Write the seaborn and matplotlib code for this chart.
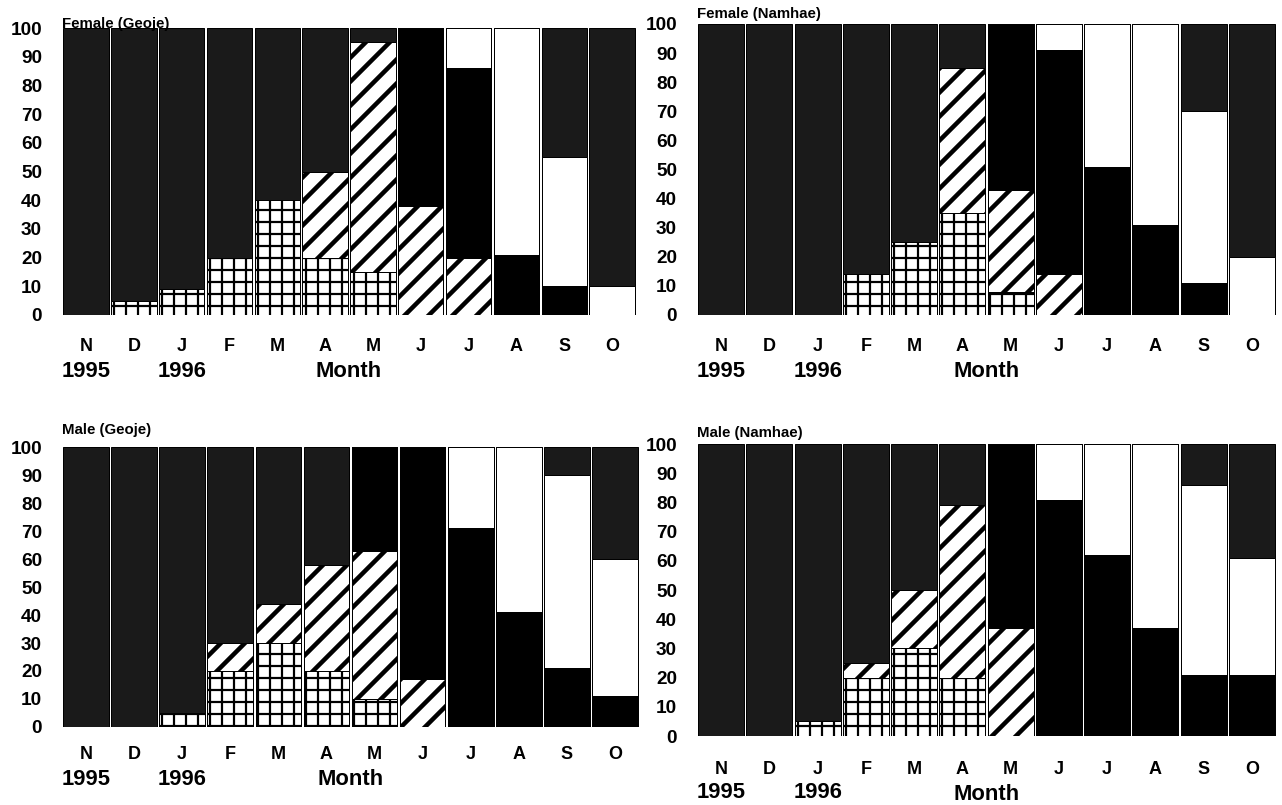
import matplotlib
matplotlib.use("Agg")
import matplotlib.pyplot as plt
import seaborn as sns
import pandas as pd
import numpy as np

# ---------------- data ----------------
months = ["N", "D", "J", "F", "M", "A", "M", "J", "J", "A", "S", "O"]
years = {0: "1995", 2: "1996"}
yticks = [0, 10, 20, 30, 40, 50, 60, 70, 80, 90, 100]

# stages from bottom to top: grid, hatched, black, white, stippled
fg_grid    = [0, 5, 9, 20, 40, 20, 15, 0, 0, 0, 0, 0]
fg_hatch   = [0, 0, 0, 0, 0, 30, 80, 38, 20, 0, 0, 0]
fg_black   = [0, 0, 0, 0, 0, 0, 0, 62, 66, 21, 10, 0]
fg_white   = [0, 0, 0, 0, 0, 0, 0, 0, 14, 79, 45, 10]
fg_stipple = [100, 95, 91, 80, 60, 50, 5, 0, 0, 0, 45, 90]

fn_grid    = [0, 0, 0, 14, 25, 35, 8, 0, 0, 0, 0, 0]
fn_hatch   = [0, 0, 0, 0, 0, 50, 35, 14, 0, 0, 0, 0]
fn_black   = [0, 0, 0, 0, 0, 0, 57, 77, 51, 31, 11, 0]
fn_white   = [0, 0, 0, 0, 0, 0, 0, 9, 49, 69, 59, 20]
fn_stipple = [100, 100, 100, 86, 75, 15, 0, 0, 0, 0, 30, 80]

mg_grid    = [0, 0, 5, 20, 30, 20, 10, 0, 0, 0, 0, 0]
mg_hatch   = [0, 0, 0, 10, 14, 38, 53, 17, 0, 0, 0, 0]
mg_black   = [0, 0, 0, 0, 0, 0, 37, 83, 71, 41, 21, 11]
mg_white   = [0, 0, 0, 0, 0, 0, 0, 0, 29, 59, 69, 49]
mg_stipple = [100, 100, 95, 70, 56, 42, 0, 0, 0, 0, 10, 40]

mn_grid    = [0, 0, 5, 20, 30, 20, 0, 0, 0, 0, 0, 0]
mn_hatch   = [0, 0, 0, 5, 20, 59, 37, 0, 0, 0, 0, 0]
mn_black   = [0, 0, 0, 0, 0, 0, 63, 81, 62, 37, 21, 21]
mn_white   = [0, 0, 0, 0, 0, 0, 0, 19, 38, 63, 65, 40]
mn_stipple = [100, 100, 95, 75, 50, 21, 0, 0, 0, 0, 14, 39]

panels = [
    ("Female (Geoje)",  [fg_grid, fg_hatch, fg_black, fg_white, fg_stipple]),
    ("Female (Namhae)", [fn_grid, fn_hatch, fn_black, fn_white, fn_stipple]),
    ("Male (Geoje)",    [mg_grid, mg_hatch, mg_black, mg_white, mg_stipple]),
    ("Male (Namhae)",   [mn_grid, mn_hatch, mn_black, mn_white, mn_stipple]),
]

# ---------------- style ----------------
sns.set_style("white")
plt.rcParams["font.family"] = ["Liberation Sans", "DejaVu Sans"]
plt.rcParams["font.weight"] = "bold"
plt.rcParams["text.color"] = "black"
plt.rcParams["axes.labelcolor"] = "black"
plt.rcParams["xtick.color"] = "black"
plt.rcParams["ytick.color"] = "black"

DPI = 72
fig = plt.figure(figsize=(1282 / DPI, 805 / DPI), dpi=DPI)

# axes rectangles (left, bottom, width, height)
rects = [
    (0.0484, 0.6087, 0.4477, 0.3565),
    (0.5437, 0.6087, 0.4516, 0.3615),
    (0.0484, 0.0969, 0.4500, 0.3478),
    (0.5437, 0.0857, 0.4516, 0.3627),
]
title_offsets = [0, 6, 13, 7]
month_pads = [23, 23, 19, 25]
year_offsets = [-57, -57, -53, -56]

# drawing spec, from top stage (drawn first) to bottom stage (drawn last)
stage_styles = [
    dict(color="#1a1a1a", hatch=None, lw_h=1.0),   # stippled
    dict(color="#ffffff", hatch=None, lw_h=1.0),   # white
    dict(color="#000000", hatch=None, lw_h=1.0),   # black
    dict(color="#ffffff", hatch="/", lw_h=4.5),    # hatched
    dict(color="#ffffff", hatch="+", lw_h=2.2),    # grid
]

x_idx = list(range(len(months)))

for (title, stages), rect, toff, mpad, yoff in zip(panels, rects, title_offsets,
                                                   month_pads, year_offsets):
    ax = fig.add_axes(rect)
    cums = np.cumsum(np.array(stages), axis=0)  # cumulative tops per stage
    # draw from top stage down so that each lower cumulative bar overlays
    for k, style in zip(range(len(stages) - 1, -1, -1), stage_styles):
        df = pd.DataFrame({"pos": x_idx, "top": cums[k]})
        with plt.rc_context({"hatch.linewidth": style["lw_h"]}):
            sns.barplot(data=df, x="pos", y="top", ax=ax, color=style["color"],
                        saturation=1, errorbar=None, width=0.95,
                        edgecolor="black", linewidth=1.0,
                        hatch=style["hatch"])
        for p in ax.patches[-len(x_idx):]:
            if hasattr(p, "set_hatch_linewidth"):
                p.set_hatch_linewidth(style["lw_h"])

    ax.set_xlim(-0.5, len(months) - 0.5)
    ax.set_ylim(0, 100)
    ax.set_yticks(yticks)
    ax.set_yticklabels([str(v) for v in yticks], fontsize=19, fontweight="bold")
    ax.set_xticks(x_idx)
    ax.set_xticklabels(months, fontsize=18, fontweight="bold")
    ax.tick_params(axis="x", length=0, pad=mpad)
    ax.tick_params(axis="y", length=0, pad=20)
    for s in ax.spines.values():
        s.set_visible(False)
    ax.set_ylabel("")
    ax.set_xlabel("Month", fontsize=22, fontweight="bold", labelpad=6)

    for pos, yr in years.items():
        ax.annotate(yr, xy=(pos, 0), xycoords=("data", "axes fraction"),
                    xytext=(0, yoff), textcoords="offset points",
                    ha="center", va="center", fontsize=22, fontweight="bold")

    ax.annotate(title, xy=(0, 1), xycoords="axes fraction",
                xytext=(0, toff), textcoords="offset points",
                ha="left", va="baseline", fontsize=15, fontweight="bold")

fig.savefig("out.png", dpi=DPI, facecolor="white")
